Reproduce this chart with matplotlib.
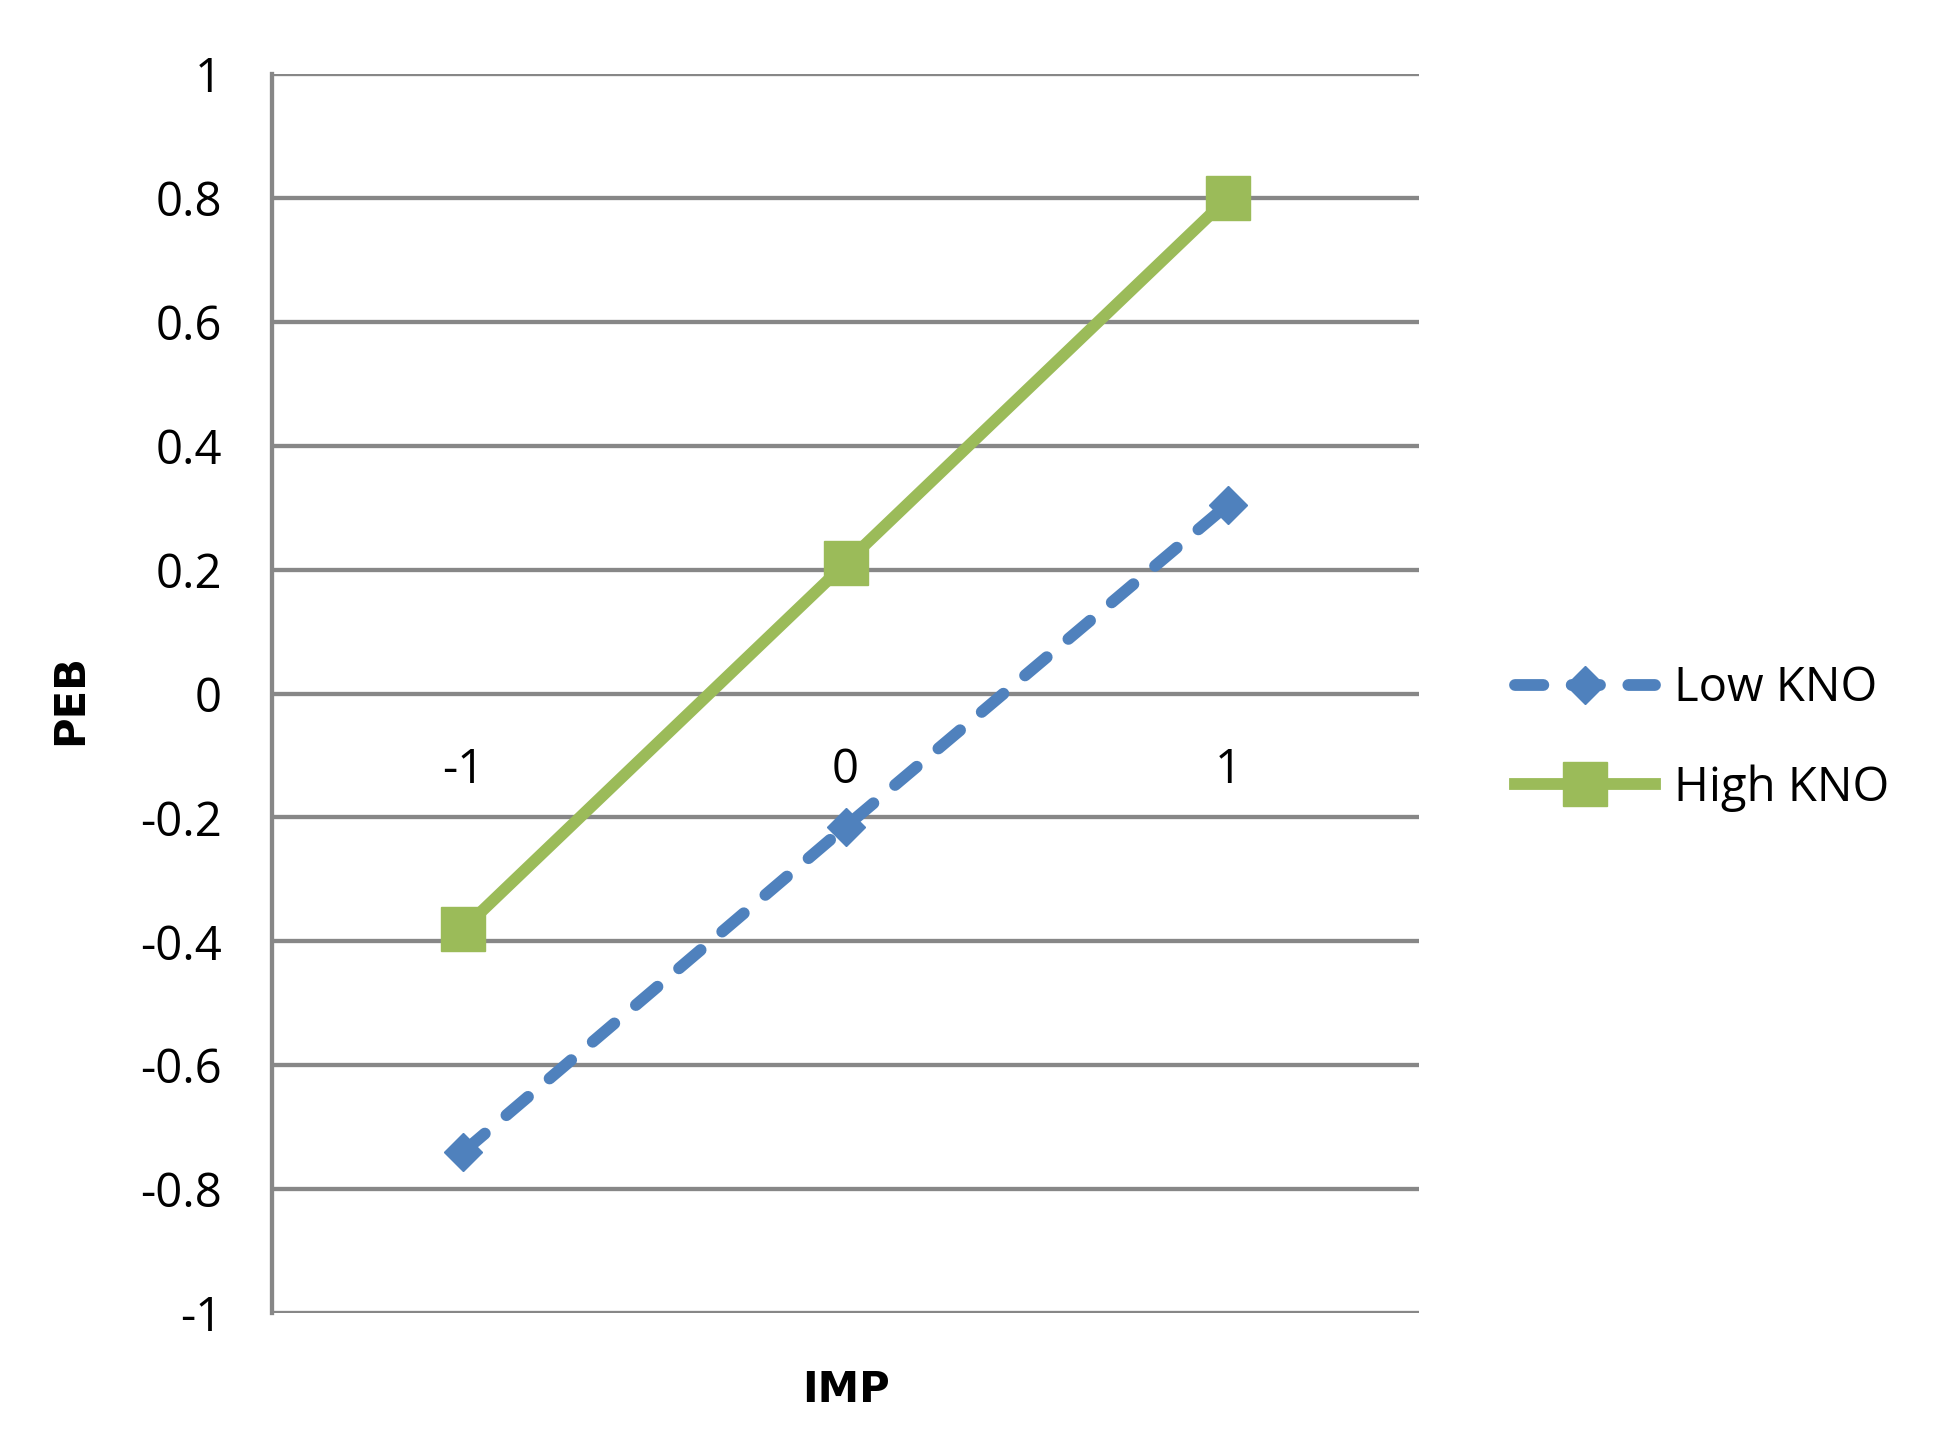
import matplotlib
matplotlib.use("Agg")
import matplotlib.pyplot as plt

# chart values
imp_levels = [-1, 0, 1]
imp_labels = ["-1", "0", "1"]
low_kno = [-0.74, -0.215, 0.305]
high_kno = [-0.38, 0.21, 0.80]
y_ticks = [-1, -0.8, -0.6, -0.4, -0.2, 0, 0.2, 0.4, 0.6, 0.8, 1]
y_labels = ["-1", "-0.8", "-0.6", "-0.4", "-0.2", "0", "0.2", "0.4", "0.6", "0.8", "1"]

plt.rcParams['font.family'] = ['Open Sans', 'DejaVu Sans']

fig = plt.figure(figsize=(19.38, 14.43), dpi=100)
ax = fig.add_axes([0.1404, 0.0901, 0.5918, 0.8586])

grid_col = '#878787'
for y in y_ticks:
    ax.axhline(y, color=grid_col, lw=3.1, zorder=1)

ax.plot(imp_levels, low_kno, color='#4F81BD', lw=8.5, linestyle=(0, (2.4, 2.4)),
        dash_capstyle='round', marker='D', markersize=19, zorder=3, label='Low KNO')
ax.plot(imp_levels, high_kno, color='#9BBB59', lw=8.5, marker='s', markersize=31,
        zorder=3, label='High KNO')

ax.set_xlim(-1.5, 1.5)
ax.set_ylim(-1, 1)
ax.set_yticks(y_ticks)
ax.set_yticklabels(y_labels)
ax.tick_params(axis='y', length=0, pad=36, labelsize=34)
ax.set_xticks([])

for sp in ['top', 'right', 'bottom']:
    ax.spines[sp].set_visible(False)
ax.spines['left'].set_color(grid_col)
ax.spines['left'].set_linewidth(3.1)

# category labels sit just below the zero line
for x, lab in zip(imp_levels, imp_labels):
    ax.annotate(lab, (x, 0), xytext=(0, -55), textcoords='offset points',
                ha='center', va='center', fontsize=34)

ax.text(0.5, -0.062, 'IMP', transform=ax.transAxes, ha='center', va='center',
        fontsize=30, fontweight='bold', family=['DejaVu Sans'])
ax.text(-0.176, 0.495, 'PEB', transform=ax.transAxes, ha='center', va='center',
        rotation=90, fontsize=30, fontweight='bold', family=['DejaVu Sans'])

leg = ax.legend(loc='center left', bbox_to_anchor=(1.047, 0.464), frameon=False,
                fontsize=34, handlelength=2.95, labelspacing=1.1, handletextpad=0.4)

fig.savefig('out.png', dpi=100)
